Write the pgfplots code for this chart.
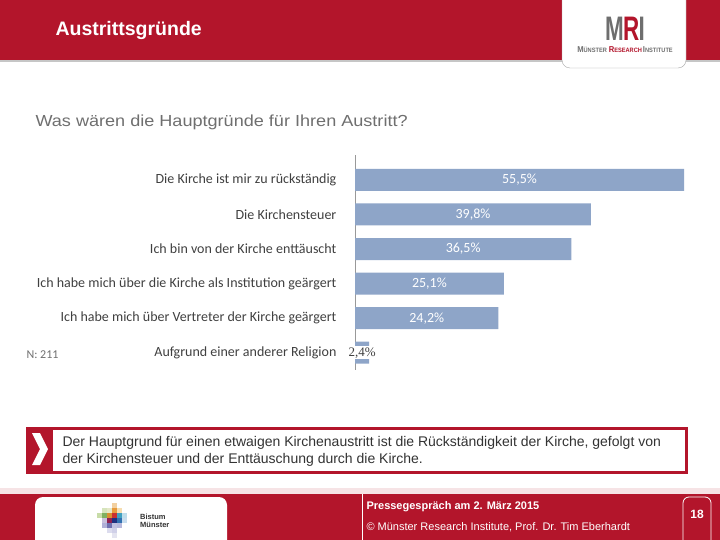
\documentclass[border=0pt]{standalone}
\usepackage{fontspec}
\setmainfont{Liberation Sans}
\newfontfamily\calfont{Carlito}
\newfontfamily\serfont{Liberation Serif}
\usepackage{pgfplots}
\pgfplotsset{compat=1.18}
\definecolor{mrired}{HTML}{B3152B}
\definecolor{barblue}{HTML}{8EA5C8}
\definecolor{txtgray}{HTML}{404040}
\definecolor{qgray}{HTML}{6F6F6F}
\definecolor{logogray}{HTML}{6E6E6E}
\newcommand{\fs}[1]{\fontsize{#1bp}{#1bp}\selectfont}

\begin{document}
\begin{tikzpicture}[x=1bp,y=-1bp]
\useasboundingbox (0,0) rectangle (720,540);
\begin{scope}
\clip (0,0) rectangle (720,540);
\fill[white] (0,0) rectangle (720,540);
% header band
\fill[mrired] (0,0) rectangle (720,60);
\fill[gray!45] (0,60) rectangle (720,62);
\node[anchor=west,text=white,font=\fs{19.5}\bfseries] at (52,31) {Austrittsgründe};
% logo box
\filldraw[fill=white,draw=gray!70,rounded corners=8bp] (562,-12) rectangle (686,68);
\node at (625,29) {\scalebox{0.66}[1]{\fs{34}\bfseries\textcolor{logogray}{M}\kern-1bp\textcolor{mrired}{R}\kern-1bp\textcolor{logogray}{I}}};
\node[font=\bfseries,inner sep=0pt] at (625,50) {\scalebox{0.9}[1]{\textcolor{logogray}{\fs{8.5}M\fs{6.3}ÜNSTER}\kern2bp
  \textcolor{mrired}{\fs{8.5}R\fs{6.3}ESEARCH}\kern1bp\textcolor{logogray}{\fs{8.5}I\fs{6.3}NSTITUTE}}};
% question
\node[anchor=west,text=qgray,font=\fs{16}] at (32,122) {\scalebox{1.13}[1]{Was wären die Hauptgründe für Ihren Austritt?}};
\node[anchor=west,text=qgray,font=\calfont\fs{12}] at (23,355) {N: 211};
% summary box
\fill[mrired] (26,427) rectangle (688,474);
\fill[white] (53,430) rectangle (685,471);
\fill[white] (32,433) -- (40,433) -- (48,449) -- (40,465) -- (32,465) -- (40,449) -- cycle;
\node[anchor=west,text=black!80,font=\fs{14}] at (59,443) {Der Hauptgrund für einen etwaigen Kirchenaustritt ist die Rückständigkeit der Kirche, gefolgt von};
\node[anchor=west,text=black!80,font=\fs{14}] at (59,460) {der Kirchensteuer und der Enttäuschung durch die Kirche.};
% footer
\fill[mrired!12] (0,488) rectangle (720,494);
\fill[mrired] (0,494) rectangle (720,540);
\fill[white,rounded corners=8bp] (35,497) rectangle (227,560);
\draw[white,line width=1bp] (362,494) -- (362,540);
\draw[white,line width=0.8bp,rounded corners=6bp] (683,497) rectangle (711,560);
\node[anchor=west,text=white,font=\fs{11}\bfseries] at (363,507) {Pressegespräch am 2. März 2015};
\node[anchor=west,text=white,font=\fs{11}] at (363,527) {© Münster Research Institute, Prof. Dr. Tim Eberhardt};
\node[text=white,font=\fs{12}\bfseries] at (697,514) {18};
% Bistum logo squares
\foreach \c/\r/\col in {3/0/F2D0A0,1/1/D6E4BC,2/1/E4E8C8,3/1/E89A3C,4/1/F5DDB0,
  0/2/C8DCA8,1/2/7FB060,2/2/D89030,3/2/C83030,4/2/40A0C0,5/2/BFDDEB,
  1/3/C8C0DC,2/3/902050,3/3/203080,4/3/3070B0,5/3/C8DDEE,
  1/4/B0B0D8,2/4/7070B0,3/4/C0C0E0,4/4/B8B8DC,
  2/5/DCDCEE,3/5/D0D0E8,3/6/E4E4F0}{
  \definecolor{sq}{HTML}{\col}
  \fill[sq] (97+5*\c,503+5*\r) rectangle ++(5,5);
}
\node[anchor=west,text=black!80,font=\fs{7.5}\bfseries,align=left,inner sep=0pt] at (140,521) {Bistum\\[0.5bp]Münster};
\end{scope}
% chart
\begin{axis}[at={(355bp,-155bp)}, anchor=north west, scale only axis,
  width=329bp, height=215bp,
  xmin=0, xmax=55.5, ymin=-0.72, ymax=5.5, y dir=reverse,
  axis x line=none, axis y line=left,
  axis line style={-, draw=gray!80},
  ytick={0,...,5},
  yticklabels={Die Kirche ist mir zu rückständig, Die Kirchensteuer, Ich bin von der Kirche enttäuscht,
    Ich habe mich über die Kirche als Institution geärgert, Ich habe mich über Vertreter der Kirche geärgert,
    Aufgrund einer anderer Religion},
  ytick style={draw=none},
  yticklabel style={font=\calfont\fs{14}, text=txtgray, xshift=-13bp},
  clip=false]
\addplot[xbar, bar width=22bp, fill=barblue, draw=none]
  coordinates {(55.5,0) (39.8,1) (36.5,2) (25.1,3) (24.2,4) (2.4,5)};
\addplot[only marks, mark=none, nodes near coords, point meta=explicit symbolic,
  nodes near coords style={anchor=center, text=white, font=\calfont\fs{14}}]
  coordinates {(27.75,0) [55,5\%] (19.9,1) [39,8\%] (18.25,2) [36,5\%] (12.55,3) [25,1\%] (12.1,4) [24,2\%]};
\addplot[only marks, mark=none, nodes near coords, point meta=explicit symbolic,
  nodes near coords style={anchor=center, text=txtgray, fill=white, inner sep=1bp, font=\serfont\fs{13}}]
  coordinates {(1.2,5) [2,4\%]};
\end{axis}
\end{tikzpicture}
\end{document}
